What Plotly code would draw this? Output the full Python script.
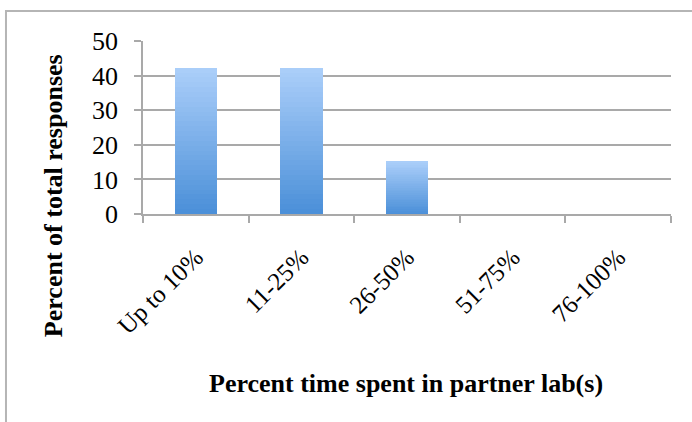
import plotly.graph_objects as go

# Survey results: share of responses by time spent in partner labs
categories = ["Up to 10%", "11-25%", "26-50%", "51-75%", "76-100%"]
percent_responses = [42.3, 42.3, 15.4, 0, 0]
y_ticks = [0, 10, 20, 30, 40, 50]

# Vertical gradient for the bars: each bar is split into thin stacked bands,
# from dark blue at the base to light blue at the top.
N_BANDS = 30
c_bottom = (74, 143, 216)
c_top = (172, 207, 250)


def band_color(t):
    r, g, b = (round(c_bottom[i] + (c_top[i] - c_bottom[i]) * t) for i in range(3))
    return f"rgb({r},{g},{b})"


fig = go.Figure()
for k in range(N_BANDS):
    t = (k + 0.5) / N_BANDS
    fig.add_trace(go.Bar(
        x=categories,
        y=[v / N_BANDS for v in percent_responses],
        marker=dict(color=band_color(t), line=dict(width=0)),
        hoverinfo="skip",
        showlegend=False,
    ))

serif = "Liberation Serif, Times New Roman, serif"
grid_c = "#a9a9a9"

fig.update_layout(
    width=692,
    height=422,
    margin=dict(l=143, r=21, t=41, b=208),
    paper_bgcolor="white",
    plot_bgcolor="white",
    barmode="stack",
    bargap=0.6,
    font=dict(family=serif, color="black"),
    xaxis=dict(
        type="category",
        showgrid=False,
        showline=True,
        linecolor=grid_c,
        linewidth=1.5,
        ticks="outside",
        ticklen=7,
        tickcolor=grid_c,
        tickwidth=1.5,
        tickson="boundaries",
        tickangle=-45,
        tickfont=dict(size=25, family=serif),
        ticklabelstandoff=17,
    ),
    yaxis=dict(
        range=[0, 50],
        tickvals=y_ticks,
        showgrid=True,
        gridcolor=grid_c,
        gridwidth=1.5,
        showline=True,
        linecolor=grid_c,
        linewidth=1.5,
        ticks="outside",
        ticklen=7,
        tickcolor=grid_c,
        tickwidth=1.5,
        zeroline=False,
        tickfont=dict(size=26, family=serif),
        ticklabelstandoff=11,
    ),
    annotations=[
        dict(
            text="<b>Percent of total responses</b>",
            xref="paper", yref="paper",
            x=-0.168, y=0.105,
            xanchor="center", yanchor="middle",
            textangle=-90,
            showarrow=False,
            font=dict(size=26, family=serif, color="black"),
        ),
        dict(
            text="<b>Percent time spent in partner lab(s)</b>",
            xref="paper", yref="paper",
            x=0.499, y=-0.977,
            xanchor="center", yanchor="middle",
            showarrow=False,
            font=dict(size=26, family=serif, color="black"),
        ),
    ],
    shapes=[
        # light gray chart-area frame
        dict(
            type="rect", xref="paper", yref="paper",
            x0=-0.2595, y0=-1.3, x1=1.1, y1=1.1734,
            line=dict(color="#b5b5b5", width=2),
            fillcolor="rgba(0,0,0,0)",
            layer="below",
        ),
    ],
)

fig.write_html("out.html")
